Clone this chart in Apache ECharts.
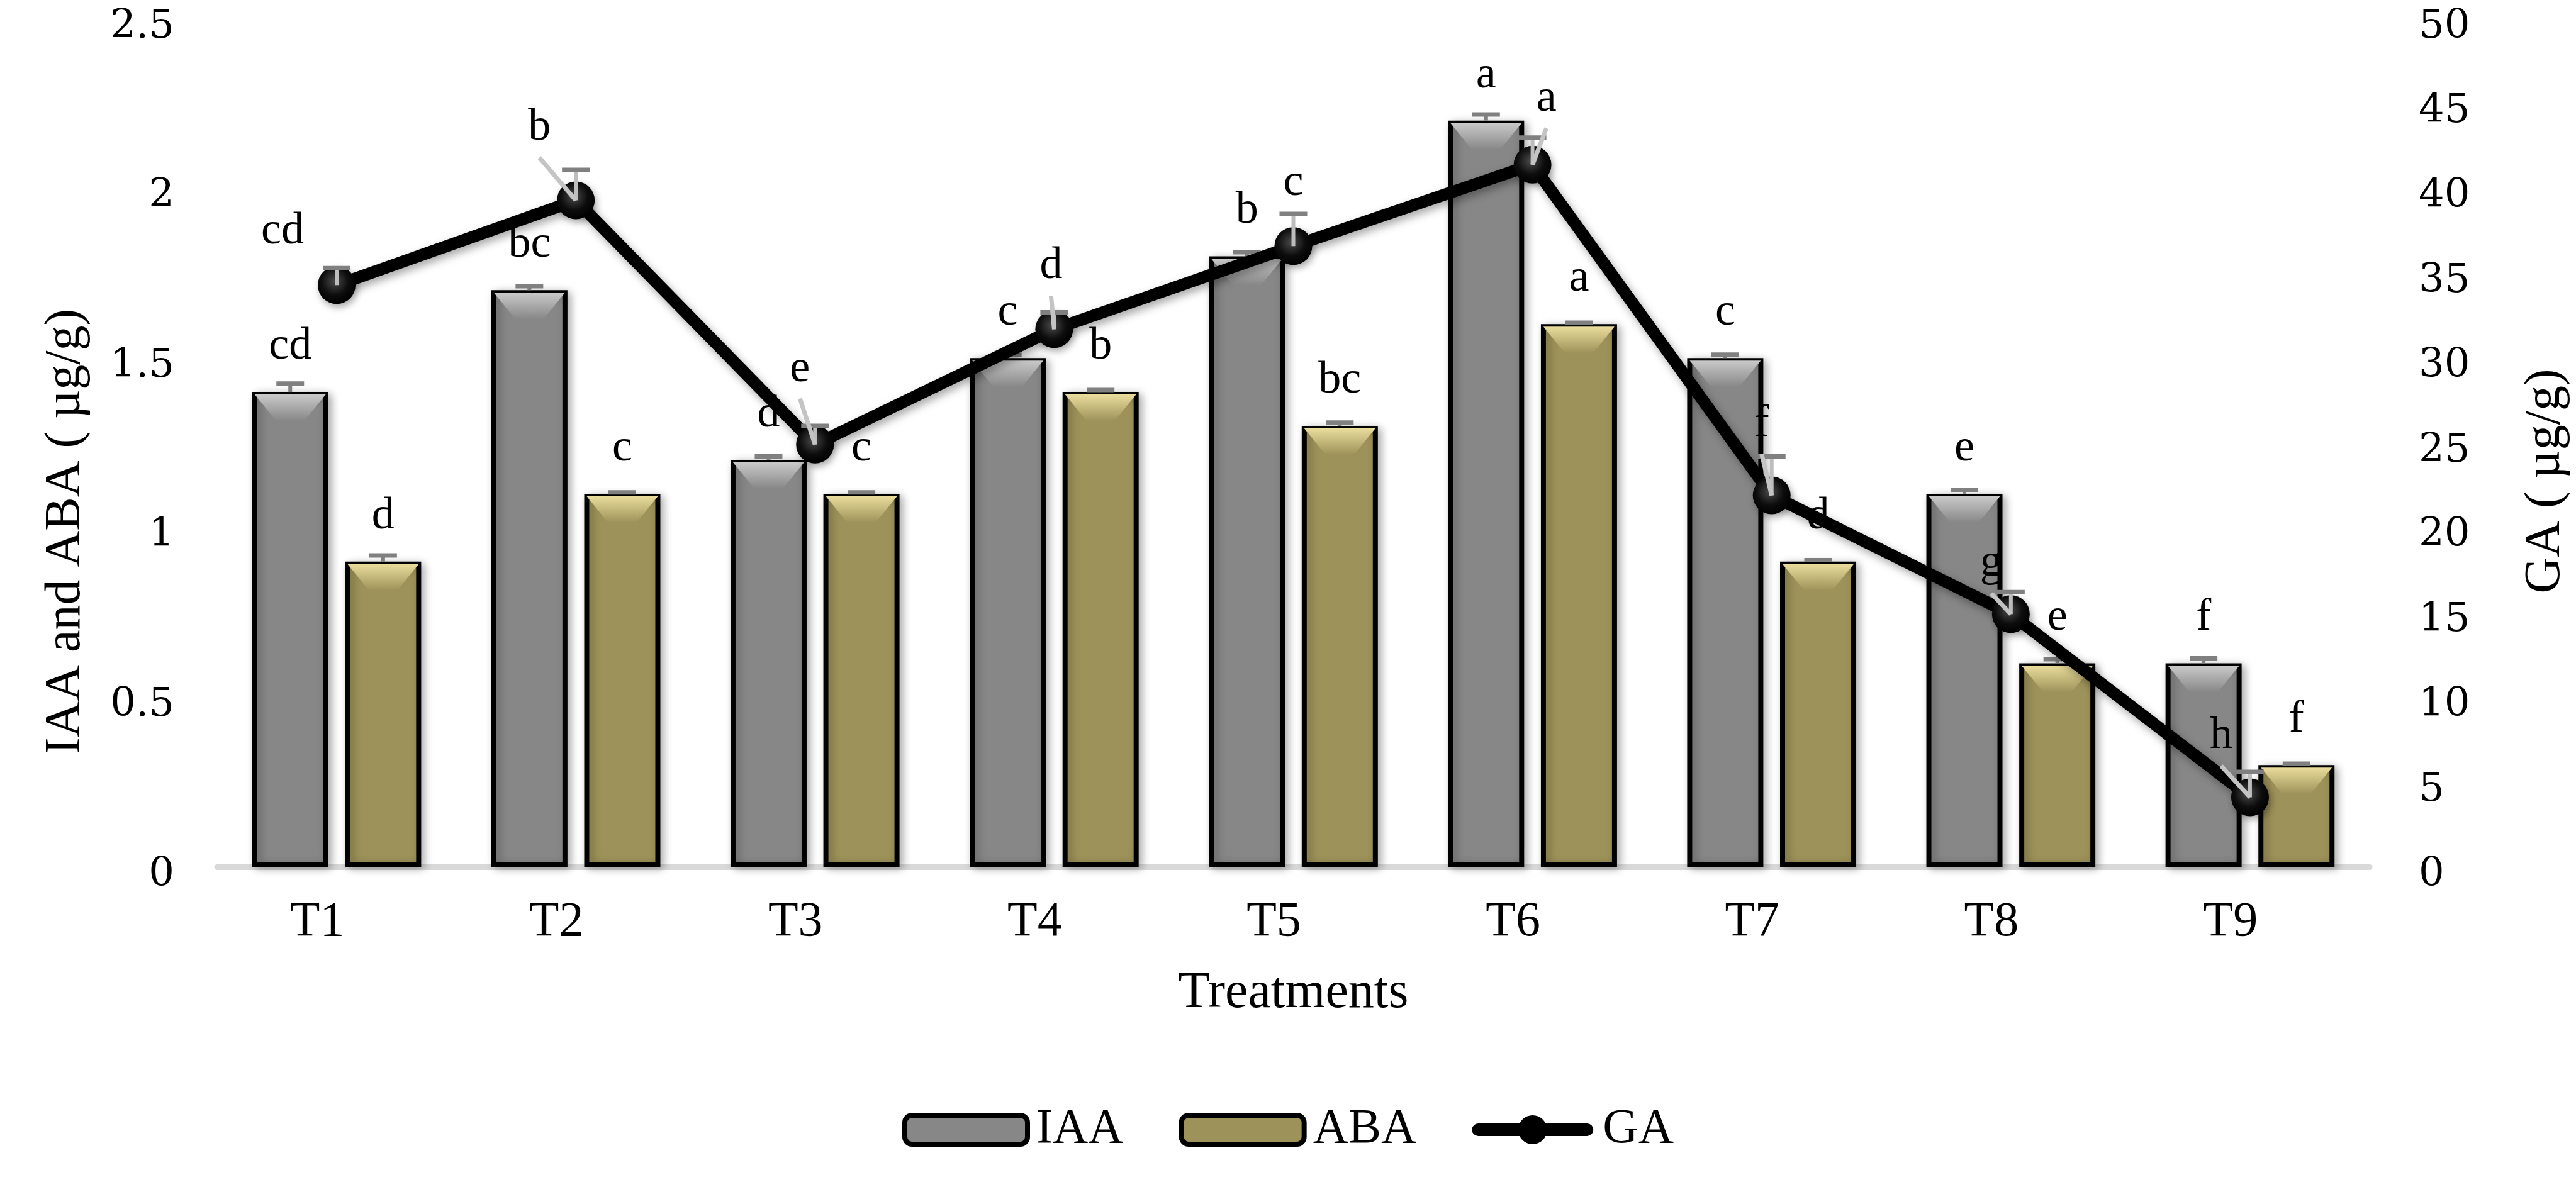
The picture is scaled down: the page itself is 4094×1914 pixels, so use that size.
<!DOCTYPE html>
<html>
<head>
<meta charset="utf-8">
<script src="https://cdn.jsdelivr.net/npm/echarts@6/dist/echarts.min.js"></script>
<style>
html,body{margin:0;padding:0;background:#fff;}
#chart{width:4094px;height:1914px;}
</style>
</head>
<body>
<div id="chart"></div>
<script>
// ---------- data ----------
const categories = ['T1','T2','T3','T4','T5','T6','T7','T8','T9'];
const iaa = [1.4, 1.7, 1.2, 1.5, 1.8, 2.2, 1.5, 1.1, 0.6];
const aba = [0.9, 1.1, 1.1, 1.4, 1.3, 1.6, 0.9, 0.6, 0.3];
const ga  = [34.3, 39.3, 24.9, 31.7, 36.6, 41.4, 21.9, 14.9, 4.1];
const iaaErr = [0.025, 0.012, 0.01, 0.01, 0.012, 0.018, 0.01, 0.012, 0.015];
const abaErr = [0.018, 0.004, 0.004, 0.006, 0.01, 0.004, 0.004, 0.012, 0.004];
const gaErr  = [1.0, 1.8, 1.1, 1.0, 1.9, 1.6, 2.3, 1.3, 1.5];
const iaaLetters = ['cd','bc','d','c','b','a','c','e','f'];
const abaLetters = ['d','c','c','b','bc','a','d','e','f'];
const gaLetters  = ['cd','b','e','d','c','a','f','g','h'];
const leftTicks = {min: 0, max: 2.5, interval: 0.5};
const rightTicks = {min: 0, max: 50, interval: 5};

// ---------- style ----------
const SERIF = 'Liberation Serif';
const BAR_W = 121;
const BAR_GAP = 0.22;
const BAR_OFF = (BAR_W * (1 + BAR_GAP)) / 2;
// GA letter label offsets relative to marker [dx, dy, leaderLine]
const gaLabelStyle = [
  [-86, -85, 0], [-58, -115, 1], [-24, -120, 1], [-5, -100, 1], [0, -100, 0],
  [22, -105, 1], [-16, -113, 1], [-31, -80, 1], [-46, -97, 1]
];
const gaLegendIcon = 'path://M11,13 L184,13 A10,10 0 0,1 184,33 L11,33 A10,10 0 0,1 11,13 Z M97.5,0 A23,23 0 1,1 97.4,0 Z';

const chart = echarts.init(document.getElementById('chart'));

function barDecor(offset, light, base) {
  return function (params, api) {
    const i = api.value(0), v = api.value(1), e = api.value(2);
    const c = api.coord([i, v]);
    const ce = api.coord([i, v + e]);
    const x = c[0] + offset, top = c[1];
    const hw = BAR_W / 2 - 4;
    const bh = 42;
    return {
      type: 'group',
      children: [
        {
          type: 'polygon',
          shape: {points: [[x - hw, top + 4], [x + hw, top + 4], [x + hw - 34, top + 4 + bh], [x - hw + 34, top + 4 + bh]]},
          style: {fill: new echarts.graphic.LinearGradient(0, 0, 0, 1, [
            {offset: 0, color: light}, {offset: 1, color: base}
          ])}
        },
        {type: 'line', shape: {x1: x, y1: top, x2: x, y2: ce[1]}, style: {stroke: '#808080', lineWidth: 6}},
        {type: 'line', shape: {x1: x - 22, y1: ce[1], x2: x + 22, y2: ce[1]}, style: {stroke: '#808080', lineWidth: 7}}
      ]
    };
  };
}

function gaDecor(params, api) {
  const i = api.value(0), v = api.value(1), e = api.value(2);
  const c = api.coord([i, v]);
  const ce = api.coord([i, v + e]);
  const st = gaLabelStyle[i];
  const lx = c[0] + st[0], ly = c[1] + st[1];
  const children = [
    {type: 'line', shape: {x1: c[0], y1: c[1], x2: c[0], y2: ce[1]}, style: {stroke: '#bdbdbd', lineWidth: 6}},
    {type: 'line', shape: {x1: c[0] - 22, y1: ce[1], x2: c[0] + 22, y2: ce[1]}, style: {stroke: '#808080', lineWidth: 7}}
  ];
  if (st[2]) {
    children.push({type: 'line', shape: {x1: c[0], y1: c[1], x2: lx, y2: ly + 47},
      style: {stroke: '#c4c4c4', lineWidth: 7}});
  }
  children.push({type: 'text', x: lx, y: ly, style: {
    text: gaLetters[i], fill: '#000', font: '72px "' + SERIF + '"',
    textAlign: 'center', textVerticalAlign: 'middle'
  }});
  return {type: 'group', children: children};
}

const barShadow = {shadowBlur: 14, shadowColor: 'rgba(0,0,0,0.28)', shadowOffsetX: 5, shadowOffsetY: 3};
const markerColor = {type: 'radial', x: 0.45, y: 0.4, r: 0.6, colorStops: [
  {offset: 0, color: '#4a4a4a'}, {offset: 0.6, color: '#0d0d0d'}, {offset: 1, color: '#000'}
]};

const option = {
  backgroundColor: '#ffffff',
  animation: false,
  grid: {left: 345, right: 287, top: 30, bottom: 536, containLabel: false},
  legend: {
    data: [
      {name: 'IAA', itemStyle: {borderWidth: 8, borderColor: '#000'}},
      {name: 'ABA', itemStyle: {borderWidth: 8, borderColor: '#000'}},
      {name: 'GA', icon: gaLegendIcon, itemStyle: {color: '#000', borderWidth: 0}}
    ],
    left: 'center',
    top: 1752,
    itemWidth: 195,
    itemHeight: 46,
    itemGap: 88,
    textStyle: {fontFamily: SERIF, fontSize: 78, color: '#000', padding: [0, 0, 0, 9]}
  },
  xAxis: {
    type: 'category',
    data: categories,
    boundaryGap: true,
    axisTick: {show: false},
    axisLine: {show: true, lineStyle: {color: '#d9d9d9', width: 9}},
    axisLabel: {fontFamily: SERIF, fontSize: 78, color: '#000', margin: 50, padding: [0, 62, 0, 0]},
    name: 'Treatments',
    nameLocation: 'middle',
    nameGap: 160,
    nameTextStyle: {fontFamily: SERIF, fontSize: 82, color: '#000'}
  },
  yAxis: [
    {
      type: 'value', min: leftTicks.min, max: leftTicks.max, interval: leftTicks.interval,
      position: 'left',
      axisLine: {show: false}, axisTick: {show: false}, splitLine: {show: false},
      axisLabel: {fontFamily: 'DejaVu Serif', fontSize: 64, color: '#000', margin: 68,
        verticalAlign: 'top', lineHeight: 26},
      name: 'IAA and ABA ( µg/g)', nameLocation: 'middle', nameGap: 200,
      nameTextStyle: {fontFamily: SERIF, fontSize: 80, color: '#000', padding: [0, 282, 0, 0]}
    },
    {
      type: 'value', min: rightTicks.min, max: rightTicks.max, interval: rightTicks.interval,
      position: 'right',
      axisLine: {show: false}, axisTick: {show: false}, splitLine: {show: false},
      axisLabel: {fontFamily: 'DejaVu Serif', fontSize: 64, color: '#000', margin: 78,
        verticalAlign: 'top', lineHeight: 26},
      name: 'GA ( µg/g)', nameLocation: 'middle', nameGap: 240,
      nameTextStyle: {fontFamily: SERIF, fontSize: 80, color: '#000', padding: [0, 122, 0, 0]}
    }
  ],
  series: [
    {
      name: 'IAA', type: 'bar', yAxisIndex: 0, data: iaa, z: 2,
      barWidth: BAR_W, barGap: (BAR_GAP * 100) + '%',
      itemStyle: Object.assign({color: '#878787', borderColor: '#000', borderWidth: 8}, barShadow),
      label: {show: true, position: 'top', distance: 36, fontFamily: SERIF, fontSize: 72, color: '#000',
        formatter: p => iaaLetters[p.dataIndex]}
    },
    {
      name: 'ABA', type: 'bar', yAxisIndex: 0, data: aba, z: 2,
      barWidth: BAR_W,
      itemStyle: Object.assign({color: '#9d9259', borderColor: '#000', borderWidth: 8}, barShadow),
      label: {show: true, position: 'top', distance: 36, fontFamily: SERIF, fontSize: 72, color: '#000',
        formatter: p => abaLetters[p.dataIndex]}
    },
    {
      name: 'IAAdecor', type: 'custom', yAxisIndex: 0, z: 3, silent: true,
      data: iaa.map((v, i) => [i, v, iaaErr[i]]),
      renderItem: barDecor(-BAR_OFF, '#c9c9c9', '#878787')
    },
    {
      name: 'ABAdecor', type: 'custom', yAxisIndex: 0, z: 3, silent: true,
      data: aba.map((v, i) => [i, v, abaErr[i]]),
      renderItem: barDecor(BAR_OFF, '#e9dc9c', '#9d9259')
    },
    {
      name: 'GA', type: 'line', yAxisIndex: 1, data: ga, z: 4,
      symbol: 'circle', symbolSize: 60,
      lineStyle: {color: '#000', width: 19, shadowBlur: 14, shadowColor: 'rgba(0,0,0,0.35)', shadowOffsetX: 4, shadowOffsetY: 6},
      itemStyle: {
        color: markerColor,
        borderWidth: 0,
        shadowBlur: 12, shadowColor: 'rgba(0,0,0,0.35)', shadowOffsetX: 3, shadowOffsetY: 5
      }
    },
    {
      name: 'GAdecor', type: 'custom', yAxisIndex: 1, z: 5, silent: true,
      data: ga.map((v, i) => [i, v, gaErr[i]]),
      renderItem: gaDecor
    }
  ]
};
chart.setOption(option);
</script>
</body>
</html>
